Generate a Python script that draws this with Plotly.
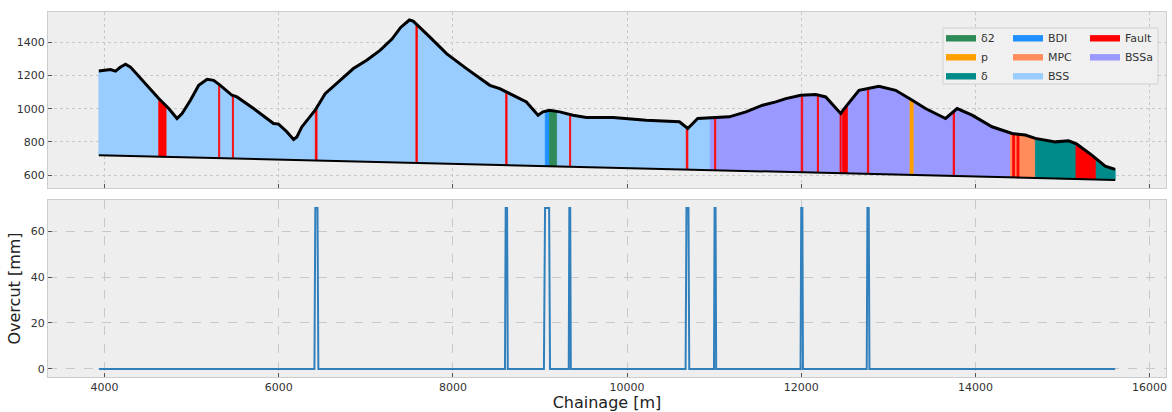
import numpy as np
import plotly.graph_objects as go
from plotly.subplots import make_subplots

# ---------------- data ----------------
terrain_ch = [3934, 3990, 4069, 4126, 4180, 4241, 4298, 4622, 4737, 4832, 4890, 4986,
              5081, 5177, 5253, 5329, 5463, 5520, 5711, 5940, 5998, 6093, 6170, 6208,
              6265, 6418, 6533, 6705, 6857, 7010, 7163, 7300, 7400, 7500, 7544, 7736,
              7927, 8156, 8424, 8538, 8691, 8844, 8978, 9034, 9111, 9226, 9379, 9532,
              9838, 10220, 10601, 10697, 10811, 10983, 11174, 11365, 11556, 11708, 11823,
              11995, 12167, 12281, 12453, 12510, 12663, 12892, 13084, 13275, 13427, 13657,
              13790, 13962, 14191, 14421, 14573, 14688, 14918, 15070, 15165, 15337, 15490,
              15605]
terrain_el = [1227, 1232, 1236, 1227, 1250, 1268, 1251, 1061, 1001, 941, 971, 1051,
              1141, 1177, 1171, 1141, 1081, 1071, 1001, 911, 907, 861, 815, 830,
              890, 991, 1091, 1171, 1242, 1292, 1352, 1420, 1490, 1535, 1528, 1432,
              1332, 1242, 1141, 1121, 1081, 1041, 961, 981, 991, 981, 961, 947,
              947, 931, 921, 881, 941, 947, 951, 981, 1021, 1041, 1061,
              1081, 1085, 1071, 971, 1011, 1111, 1135, 1111, 1051, 1001, 941,
              1001, 961, 891, 851, 841, 821, 800, 806, 786, 720, 654,
              634]

tunnel_ch = [3934, 15605]
tunnel_el = [720, 570]

seg_start = [3934, 4622, 4706, 5310, 5322, 5468, 5480, 6420, 6440, 7575, 7592, 8606,
             8622, 9061, 9111, 9199, 9340, 9352, 10680, 10698, 10956, 11005, 11018,
             12000, 12016, 12185, 12198, 12446, 12458, 12473, 12530, 12760, 12775,
             13249, 13295, 13745, 13760, 14403, 14428, 14450, 14478, 14500, 14689,
             15155, 15377]
seg_end = seg_start[1:] + [15605]
seg_unit = ["BSS", "Fault", "BSS", "Fault", "BSS", "Fault", "BSS", "Fault", "BSS",
            "Fault", "BSS", "Fault", "BSS", "BDI", "δ2", "BSS", "Fault", "BSS",
            "Fault", "BSS", "BSSa", "Fault", "BSSa", "Fault", "BSSa", "Fault", "BSSa",
            "Fault", "BSSa", "Fault", "BSSa", "Fault", "BSSa", "p", "BSSa", "Fault",
            "BSSa", "MPC", "Fault", "MPC", "Fault", "MPC", "δ", "Fault", "δ"]

units = ["δ2", "p", "δ", "BDI", "MPC", "BSS", "Fault", "BSSa"]

overcut_ch = [3934,
              6410, 6420, 6445, 6455,
              8598, 8606, 8622, 8630,
              9045, 9058, 9105, 9115,
              9330, 9337, 9347, 9354,
              10672, 10682, 10705, 10714,
              10998, 11005, 11016, 11023,
              11992, 12000, 12013, 12020,
              12752, 12760, 12775, 12783,
              15605]
overcut_mm = [0,
              0, 70, 70, 0,
              0, 70, 70, 0,
              0, 70, 70, 0,
              0, 70, 70, 0,
              0, 70, 70, 0,
              0, 70, 70, 0,
              0, 70, 70, 0,
              0, 70, 70, 0,
              0]

x_ticks = [4000, 6000, 8000, 10000, 12000, 14000, 16000]
y_ticks_top = [600, 800, 1000, 1200, 1400]
y_ticks_bot = [0, 20, 40, 60]

# ---------------- style ----------------
unit_color = {"δ2": "#2E8B57", "p": "#FFA000", "δ": "#008B8B", "BDI": "#1E90FF",
              "MPC": "#FF8C5A", "BSS": "#99CCFF", "Fault": "#FF0000", "BSSa": "#9999FF"}
unit_legend = {"δ2": "legend", "p": "legend", "δ": "legend",
               "BDI": "legend2", "MPC": "legend2", "BSS": "legend2",
               "Fault": "legend3", "BSSa": "legend3"}

FONT = "DejaVu Sans"
W, H = 1172, 412
ML, MR, MT, MB = 48, 6, 12, 35
PW, PH = W - ML - MR, H - MT - MB


def px_to_paper_x(px):
    return (px - ML) / PW


def px_to_paper_y(py):
    return (H - MB - py) / PH


tch = np.array(terrain_ch, float)
tel = np.array(terrain_el, float)


def seg_poly(a, b):
    inner = (tch > a) & (tch < b)
    xs = np.concatenate([[a], tch[inner], [b]])
    top = np.interp(xs, tch, tel)
    bot = np.interp(xs, tunnel_ch, tunnel_el)
    return list(xs) + list(xs[::-1]) + [xs[0]], list(top) + list(bot[::-1]) + [top[0]]


fig = make_subplots(rows=2, cols=1, shared_xaxes=True)

# draw non-fault units first, faults on top
order = sorted(range(len(seg_unit)), key=lambda i: seg_unit[i] == "Fault")
shown = set()
for i in order:
    u = seg_unit[i]
    X, Y = seg_poly(seg_start[i], seg_end[i])
    fig.add_trace(go.Scatter(x=X, y=Y, mode="lines", fill="toself",
                             fillcolor=unit_color[u],
                             line=dict(color=unit_color[u], width=0.8),
                             name=u, legend=unit_legend[u], legendgroup=u,
                             legendrank=units.index(u) + 1,
                             showlegend=u not in shown, hoverinfo="skip"),
                  row=1, col=1)
    shown.add(u)

fig.add_trace(go.Scatter(x=tunnel_ch, y=tunnel_el, mode="lines",
                         line=dict(color="black", width=2), showlegend=False),
              row=1, col=1)
fig.add_trace(go.Scatter(x=terrain_ch, y=terrain_el, mode="lines",
                         line=dict(color="black", width=3), showlegend=False),
              row=1, col=1)
fig.add_trace(go.Scatter(x=overcut_ch, y=overcut_mm, mode="lines",
                         line=dict(color="#3080BD", width=2), showlegend=False),
              row=2, col=1)

span = max(terrain_ch) - min(terrain_ch)
xr = [min(terrain_ch) - 0.05 * span, max(terrain_ch) + 0.05 * span]
ymin, ymax = min(tunnel_el), max(terrain_el)
yr_top = [ymin - 0.05 * (ymax - ymin), ymax + 0.05 * (ymax - ymin)]
omax = max(overcut_mm)
yr_bot = [-0.05 * omax, omax * 1.05]

axis_common = dict(showline=True, mirror=True, linecolor="#cccccc", linewidth=1,
                   showgrid=True, gridcolor="#c8c8c8", gridwidth=1,
                   ticks="inside", ticklen=4, tickcolor="#555555",
                   tickfont=dict(family=FONT, size=11, color="#333333"),
                   zeroline=False, automargin=False, tickformat="d")

fig.update_xaxes(**axis_common, range=xr, tickvals=x_ticks)
fig.update_xaxes(showticklabels=False, griddash="dot", row=1, col=1)
fig.update_xaxes(griddash="dash", row=2, col=1,
                 title=dict(text="Chainage [m]", font=dict(family=FONT, size=16, color="#222222"),
                            standoff=2))
fig.update_yaxes(**axis_common)
fig.update_yaxes(range=yr_top, tickvals=y_ticks_top, griddash="dot", row=1, col=1)
fig.update_yaxes(range=yr_bot, tickvals=y_ticks_bot, griddash="dash", row=2, col=1,
                 title=dict(text="Overcut [mm]", font=dict(family=FONT, size=16, color="#222222"),
                            standoff=6))

fig.update_layout(
    width=W, height=H,
    margin=dict(l=ML, r=MR, t=MT, b=MB, autoexpand=False),
    paper_bgcolor="white", plot_bgcolor="#eeeeee",
    font=dict(family=FONT, size=11, color="#333333"),
    yaxis=dict(domain=[px_to_paper_y(188), 1.0]),
    yaxis2=dict(domain=[0.0, px_to_paper_y(200)]),
)

leg_common = dict(bgcolor="rgba(0,0,0,0)", borderwidth=0, yanchor="top", xanchor="left",
                  font=dict(family=FONT, size=11, color="#333333"), tracegroupgap=0,
                  itemclick=False, itemdoubleclick=False)
ytop = px_to_paper_y(23)
fig.update_layout(
    legend=dict(**leg_common, x=px_to_paper_x(941), y=ytop),
    legend2=dict(**leg_common, x=px_to_paper_x(1008), y=ytop),
    legend3=dict(**leg_common, x=px_to_paper_x(1085), y=ytop),
)

fig.add_shape(type="rect", xref="paper", yref="paper",
              x0=px_to_paper_x(943), x1=px_to_paper_x(1158),
              y0=px_to_paper_y(84), y1=px_to_paper_y(28),
              fillcolor="#f0f0f0", line=dict(color="#d0d0d0", width=1), layer="above")

fig.write_html("out.html", config={"displayModeBar": False},
               post_script="document.body.style.margin='0';document.body.style.padding='0';")
